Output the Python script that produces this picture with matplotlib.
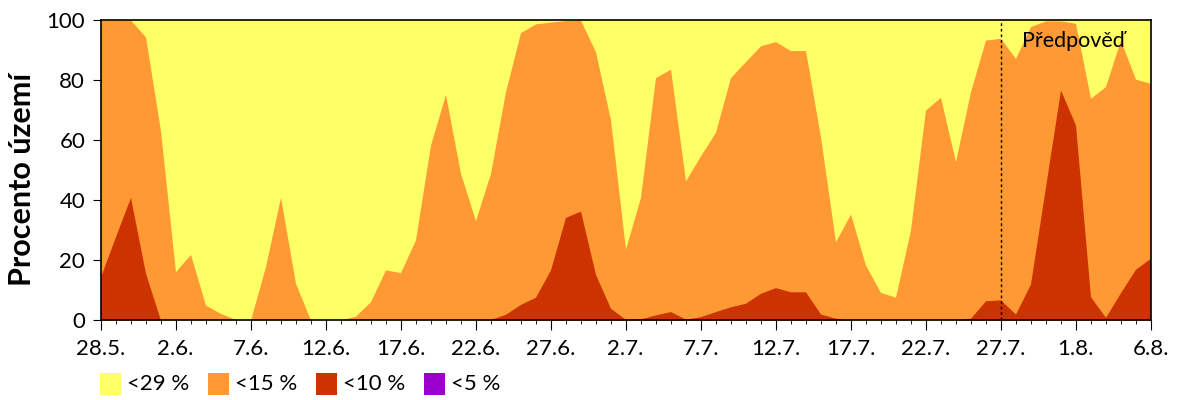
import matplotlib
matplotlib.use("Agg")
import matplotlib.pyplot as plt
from matplotlib.ticker import MultipleLocator
from matplotlib.patches import Rectangle
import numpy as np

plt.rcParams['font.family'] = ['Lato', 'DejaVu Sans']

# cumulative percent of territory (day 0 = 28.5., day 70 = 6.8.)
lt29 = [100] * 71
lt15 = [100, 100, 100, 94.4, 63, 16.1, 21.9, 5, 2.2, 0.2, 0, 17.8, 40.9, 12.2, 0, 0, 0, 1.3,
        6.1, 16.7, 15.8, 26.7, 58.3, 75.2, 48.9, 33.1, 48.9, 76.1, 95.8, 98.7, 99.3, 99.8,
        100, 89.4, 66.7, 23.6, 40.9, 80.8, 83.6, 46.4, 54.7, 62.6, 80.8, 86.1, 91.4, 92.8,
        89.8, 89.8, 61, 26.1, 35.3, 18.3, 9.2, 7.6, 30, 70, 74.2, 52.8, 76.1, 93.3, 93.9,
        87.2, 97.8, 99.7, 99.7, 98.9, 73.9, 77.8, 93.3, 80.3, 78.9]
lt10 = [14.4, 27.8, 40.9, 15.6, 0, 0, 0, 0, 0, 0, 0, 0, 0, 0, 0, 0, 0, 0,
        0, 0, 0, 0, 0, 0, 0, 0, 0.2, 1.9, 5.2, 7.6, 16.7, 34.2,
        36.3, 15.2, 3.9, 0.2, 0.4, 1.7, 2.8, 0.3, 1.1, 2.8, 4.4, 5.6, 8.9, 10.8,
        9.4, 9.4, 2.0, 0.6, 0, 0, 0, 0, 0, 0, 0, 0, 0.6, 6.4, 6.7,
        2.0, 12, 44.4, 76.7, 65, 7.8, 0.9, 9.1, 16.9, 20.6]
lt5 = [0] * 71

tick_labels = ['28.5.', '2.6.', '7.6.', '12.6.', '17.6.', '22.6.', '27.6.', '2.7.',
               '7.7.', '12.7.', '17.7.', '22.7.', '27.7.', '1.8.', '6.8.']
legend_labels = ['<29 %', '<15 %', '<10 %', '<5 %']
colors = ['#FFFF66', '#FF9933', '#CC3300', '#9900CC']
forecast_day = 60

days = np.arange(len(lt29))
W, H = 1200, 400

fig = plt.figure(figsize=(12, 4), dpi=100)
ax = fig.add_axes([100.5 / W, 80 / H, 1050 / W, 300 / H])

ax.fill_between(days, 0, lt29, color=colors[0], lw=0)
ax.fill_between(days, 0, lt15, color=colors[1], lw=0)
ax.fill_between(days, 0, lt10, color=colors[2], lw=0)
ax.fill_between(days, 0, lt5, color=colors[3], lw=0)

ax.axvline(forecast_day, color='black', ls=(0, (2, 2)), lw=1)
ax.text(forecast_day + 1.4, 93, 'Předpověď', fontsize=15.5, va='center', ha='left')

ax.set_xlim(0, 70)
ax.set_ylim(0, 100)
ax.set_xticks(np.arange(0, 71, 5))
ax.set_xticklabels(tick_labels, fontsize=16)
ax.xaxis.set_minor_locator(MultipleLocator(1))
ax.set_yticks(np.arange(0, 101, 20))
ax.tick_params(axis='y', labelsize=16, length=6, direction='out', pad=5)
ax.tick_params(axis='x', which='major', length=7, pad=7)
ax.tick_params(axis='x', which='minor', length=3)
for s in ax.spines.values():
    s.set_linewidth(1.2)

fig.text(22 / W, 1 - 179 / H, 'Procento území', rotation=90, fontsize=22,
         fontweight='bold', ha='center', va='center')

# legend
for i, (c, lab) in enumerate(zip(colors, legend_labels)):
    x0 = 100 + 108 * i
    fig.patches.append(Rectangle((x0 / W, 1 - 395 / H), 21 / W, 22 / H,
                                 transform=fig.transFigure, facecolor=c, edgecolor='none'))
    fig.text((x0 + 27) / W, 1 - 384 / H, lab, fontsize=16, ha='left', va='center')

fig.savefig('out.png', dpi=100)
